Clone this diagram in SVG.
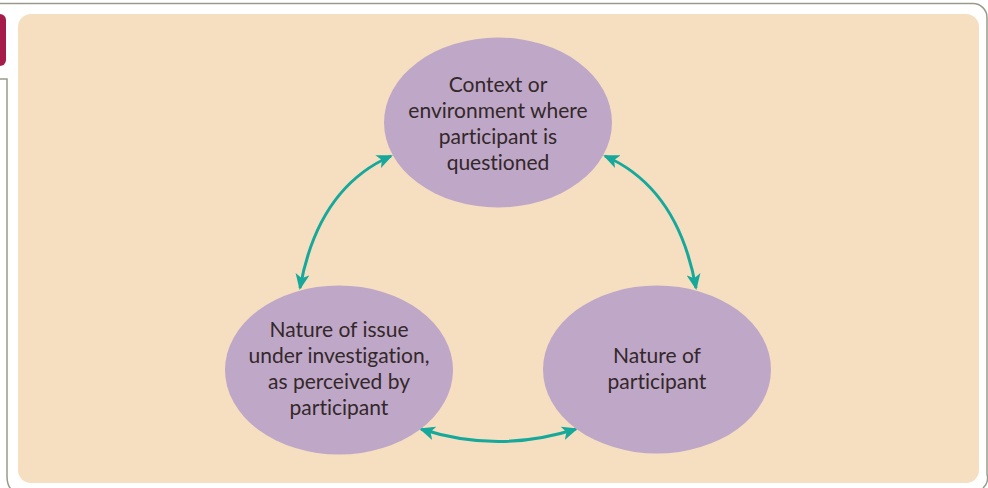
<svg xmlns="http://www.w3.org/2000/svg" width="988" height="488" viewBox="0 0 988 488">
<style>
.node ellipse{fill:#bfa7c7}
.node text{font-family:Lato,"Open Sans","Liberation Sans",sans-serif;font-size:21px;fill:#33282a;text-anchor:middle;font-variant-ligatures:none}
.conn path{fill:none;stroke:#17a89c;stroke-width:3}
.frame{fill:none;stroke:#9a9a8c;stroke-width:1.5}
</style>
<defs>
<marker id="ah" viewBox="0 0 16 14" refX="14" refY="7" markerWidth="16" markerHeight="14" markerUnits="userSpaceOnUse" orient="auto-start-reverse">
<path d="M0,0 L16,7 L0,14 L4,7 Z" fill="#17a89c"/>
</marker>
</defs>
<rect width="988" height="488" fill="#ffffff"/>
<path class="frame" d="M0,3.5 H973 A14,14 0 0 1 987,17.5 V474 A14,14 0 0 1 983,488"/>
<path class="frame" d="M0,79 H7 V476 Q7,486 12,490"/>
<rect x="-10" y="14" width="16" height="52" rx="6" fill="#a51c4b"/>
<rect x="18" y="14" width="961" height="469" rx="13" fill="#f5dfc0"/>
<g class="conn">
<path d="M300,288 Q318,188 391,156" marker-start="url(#ah)" marker-end="url(#ah)"/>
<path d="M696,288 Q678,188 605,156" marker-start="url(#ah)" marker-end="url(#ah)"/>
<path d="M421,429 Q498,454 576,429" marker-start="url(#ah)" marker-end="url(#ah)"/>
</g>
<g id="context" class="node">
<ellipse cx="498" cy="122.5" rx="114" ry="85"/>
<text x="498" y="92">Context or</text>
<text x="498" y="118">environment where</text>
<text x="498" y="144">participant is</text>
<text x="498" y="170">questioned</text>
</g>
<g id="issue" class="node">
<ellipse cx="339" cy="370" rx="114" ry="84.5"/>
<text x="339" y="337">Nature of issue</text>
<text x="339" y="363">under investigation,</text>
<text x="339" y="389">as perceived by</text>
<text x="339" y="415">participant</text>
</g>
<g id="participant" class="node">
<ellipse cx="657" cy="369.5" rx="114" ry="84"/>
<text x="657" y="363">Nature of</text>
<text x="657" y="389">participant</text>
</g>
</svg>
